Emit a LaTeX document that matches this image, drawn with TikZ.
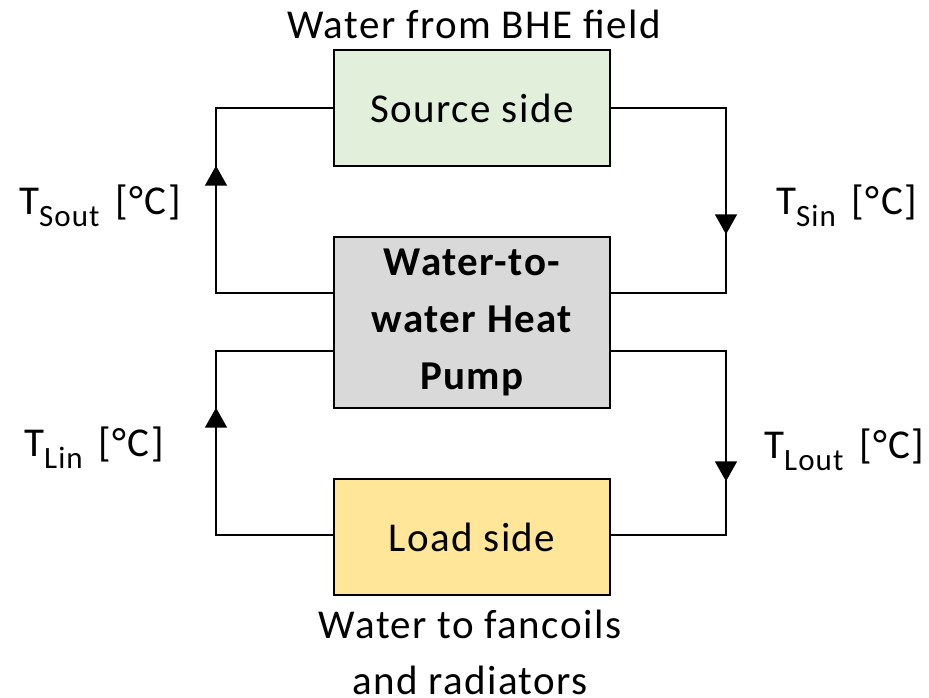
\documentclass[tikz,border=0pt]{standalone}
\usepackage{fontspec}
\setmainfont{Carlito}[LetterSpace=3.5]
\usetikzlibrary{arrows.meta,decorations.markings}
\definecolor{srcgreen}{HTML}{E2EFDA}
\definecolor{pumpgray}{HTML}{D9D9D9}
\definecolor{loadyellow}{HTML}{FFE699}
\tikzset{
  box/.style={draw=black,line width=2.6pt,minimum width=276pt,minimum height=116pt,inner sep=0pt,font=\fontsize{41}{57}\selectfont},
  pumpbox/.style={box,minimum height=171pt,align=center,font=\fontsize{41}{57}\selectfont\bfseries},
  txt/.style={inner sep=0pt,font=\fontsize{41}{56}\selectfont,align=center},
  pipe/.style={draw=black,line width=1.6pt,postaction={decorate},
    decoration={markings,mark=at position #1 with {\arrow{Triangle[width=22pt,length=20pt]}}}}
}
\newcommand{\tsub}[1]{T\raisebox{-0.3em}{\fontsize{31}{31}\selectfont #1}\hspace{5pt}}
\begin{document}
\begin{tikzpicture}[x=1pt,y=-1pt]
\useasboundingbox (0,0) rectangle (929,697);
\node[box,fill=srcgreen] (src) at (472,108) {Source side};
\node[pumpbox,fill=pumpgray] (pump) at (472,322.5) {Water-to-\\water Heat\\Pump};
\node[box,fill=loadyellow] (load) at (472,537) {Load side};
\node[txt] (top) at (474,24) {Water from BHE field};
\node[txt] (bot) at (470,652) {Water to fancoils\\and radiators};
\node[txt,anchor=west] (tso) at (19,206) {\tsub{Sout} [°C]};
\node[txt,anchor=west] (tsi) at (776,206) {\tsub{Sin} [°C]};
\node[txt,anchor=west] (tli) at (24,448) {\tsub{Lin} [°C]};
\node[txt,anchor=west] (tlo) at (764,450) {\tsub{Lout} [°C]};
\coordinate (p1) at ([yshift=29.5pt]pump.west);
\coordinate (p2) at ([yshift=29.5pt]pump.east);
\coordinate (p3) at ([yshift=-28.5pt]pump.west);
\coordinate (p4) at ([yshift=-28.5pt]pump.east);
\coordinate (l1) at ([yshift=2pt]load.west);
\coordinate (l2) at ([yshift=2pt]load.east);
\draw[pipe=244pt] (p1) -- (216,293) -- (216,108) -- (src.west);
\draw[pipe=241pt] (src.east) -- (726,108) -- (726,293) -- (p2);
\draw[pipe=244pt] (l1) -- (216,535) -- (216,351) -- (p3);
\draw[pipe=245pt] (p4) -- (726,351) -- (726,535) -- (l2);
\end{tikzpicture}
\end{document}
